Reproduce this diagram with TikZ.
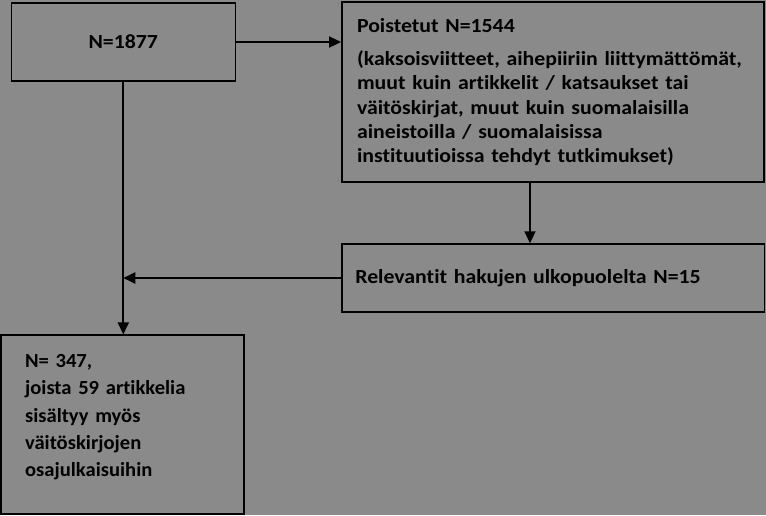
\documentclass[tikz,border=0pt]{standalone}
\usepackage{fontspec}
\setmainfont{Carlito}[Ligatures=NoCommon]
\newfontfamily\boxfont{Carlito}[FakeStretch=1.09,Ligatures=NoCommon]
\newfontfamily\narrowfont{Carlito}[FakeStretch=1.03,Ligatures=NoCommon]
\usetikzlibrary{arrows.meta}
\definecolor{bggray}{RGB}{138,138,138}
\tikzstyle{box}=[rectangle,draw=black,line width=1.5pt,fill=bggray,inner sep=0pt,font=\boxfont\fontsize{20}{24.3}\selectfont\bfseries]
\tikzstyle{conn}=[line width=2pt,-{Triangle[length=12pt,width=11pt]}]

\begin{document}
\begin{tikzpicture}[x=1pt,y=-1pt]
    \fill[bggray] (0,0) rectangle (766,515);
    \useasboundingbox (0,0) rectangle (766,515);
    \node[box,minimum width=224pt,minimum height=78pt] (all) at (123.3,42) {N=1877};
    \node[box,minimum width=422.4pt,minimum height=180pt,text width=392pt,align=left] (pois) at (553,92)
        {Poistetut N=1544\\[9pt]
        (kaksoisviitteet, aihepiiriin liittymättömät,\\
        muut kuin artikkelit / katsaukset tai\\
        väitöskirjat, muut kuin suomalaisilla\\
        aineistoilla / suomalaisissa\\
        instituutioissa tehdyt tutkimukset)};
    \node[box,minimum width=422.4pt,minimum height=68pt,text width=396pt,align=left] (rel) at (553.3,278)
        {Relevantit hakujen ulkopuolelta N=15};
%    box 4, extra depth on last line lifts the text
    \node[box,minimum width=243pt,minimum height=179pt,text width=195pt,align=left,
        font=\narrowfont\fontsize{20}{27.3}\selectfont\bfseries] (fin) at (122.6,424.6)
        {N= 347,\\
        joista 59 artikkelia\\
        sisältyy myös\\
        väitöskirjojen\\
        osajulkaisuihin\rule[-18pt]{0pt}{18pt}};
    \coordinate (split) at ([xshift=-23pt]pois.south);
    \draw[conn] (all.east) -- (all.east -| pois.west);
    \draw[conn] (split) -- (split |- rel.north);
    \draw[conn] (rel.west) -- (rel.west -| all.south);
    \draw[conn] (all.south) -- (all.south |- fin.north);
\end{tikzpicture}
\end{document}
